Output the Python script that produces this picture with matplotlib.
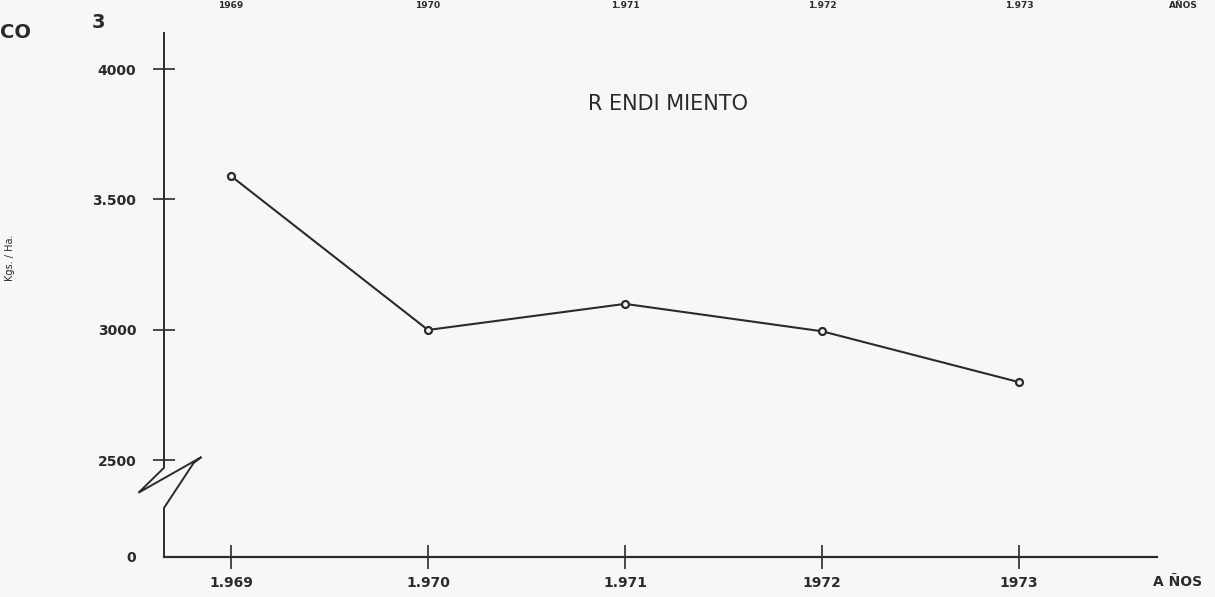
import matplotlib.pyplot as plt

years = [1969, 1970, 1971, 1972, 1973]
year_labels = ["1.969", "1.970", "1.971", "1972", "1973"]
rendimiento = [3590, 3000, 3100, 2995, 2800]

y_ticks = [2500, 3000, 3500, 4000]
y_tick_labels = ["2500", "3000", "3.500", "4000"]
zero_pos = 2130  # where "0" sits below the axis break

# labels of the previous chart on the page, at the top edge
top_labels = ["1969", "1970", "1.971", "1.972", "1.973"]

ink = "#2b2b2b"
paper = "#f7f7f7"

fig = plt.figure(figsize=(12.15, 5.97), dpi=100, facecolor=paper)
ax = fig.add_axes([164 / 1215, 1 - 557 / 597, (1157 - 164) / 1215, (557 - 33) / 597])
ax.set_facecolor(paper)
ax.set_xlim(1968.66, 1973.70)
ax.set_ylim(zero_pos, 4138)

ax.plot(years, rendimiento, color=ink, lw=1.5, marker="o", ms=5,
        mfc=paper, mec=ink, mew=1.6)

for s in ["top", "right", "left"]:
    ax.spines[s].set_visible(False)
ax.spines["bottom"].set_color(ink)
ax.spines["bottom"].set_linewidth(1.6)

# y axis with the break between 0 and 2500
brk_x = [1968.66, 1968.66, 1968.66, 1968.53, 1968.85, 1968.81, 1968.66, 1968.66]
brk_y = [4138, 2500, 2472, 2376, 2513, 2490, 2318, zero_pos]
ax.plot(brk_x, brk_y, color=ink, lw=1.4, clip_on=False, solid_joinstyle="miter")

ax.set_xticks(years)
ax.set_xticklabels(year_labels)
ax.set_yticks([zero_pos] + y_ticks)
ax.set_yticklabels(["0"] + y_tick_labels)
ax.yaxis.get_major_ticks()[0].tick1line.set_visible(False)
ax.tick_params(axis="x", direction="inout", length=17, width=1.2, color=ink,
               pad=5, labelsize=10, labelcolor=ink)
ax.tick_params(axis="y", direction="inout", length=16, width=1.2, color=ink,
               pad=12, labelsize=10, labelcolor=ink)
for lbl in ax.get_xticklabels() + ax.get_yticklabels():
    lbl.set_fontweight("bold")

fig.text(1153 / 1215, 1 - 582 / 597, "A ÑOS", ha="left", va="center",
         fontsize=10, fontweight="bold", color=ink)

ax.text(1971.22, 3865, "R ENDI MIENTO", ha="center", va="center", fontsize=15,
        color=ink)

fig.text(10 / 1215, 1 - 258 / 597, "Kgs. / Ha.", rotation=90, ha="center",
         va="center", fontsize=7, color=ink)

fig.text(0 / 1215, 1 - 33 / 597, "CO", ha="left", va="center", fontsize=14,
         fontweight="bold", color=ink)
fig.text(98 / 1215, 1 - 23 / 597, "3", ha="center", va="center", fontsize=14,
         fontweight="bold", color=ink)

for yr, lbl in zip(years, top_labels):
    x_fig = (164 + (yr - 1968.66) * (1157 - 164) / (1973.70 - 1968.66)) / 1215
    fig.text(x_fig, 0.999, lbl, ha="center", va="top", fontsize=6.5,
             fontweight="bold", color=ink)
fig.text(1183 / 1215, 0.999, "AÑOS", ha="center", va="top", fontsize=6.5,
         fontweight="bold", color=ink)

fig.savefig("out.png", dpi=100, facecolor=paper)
